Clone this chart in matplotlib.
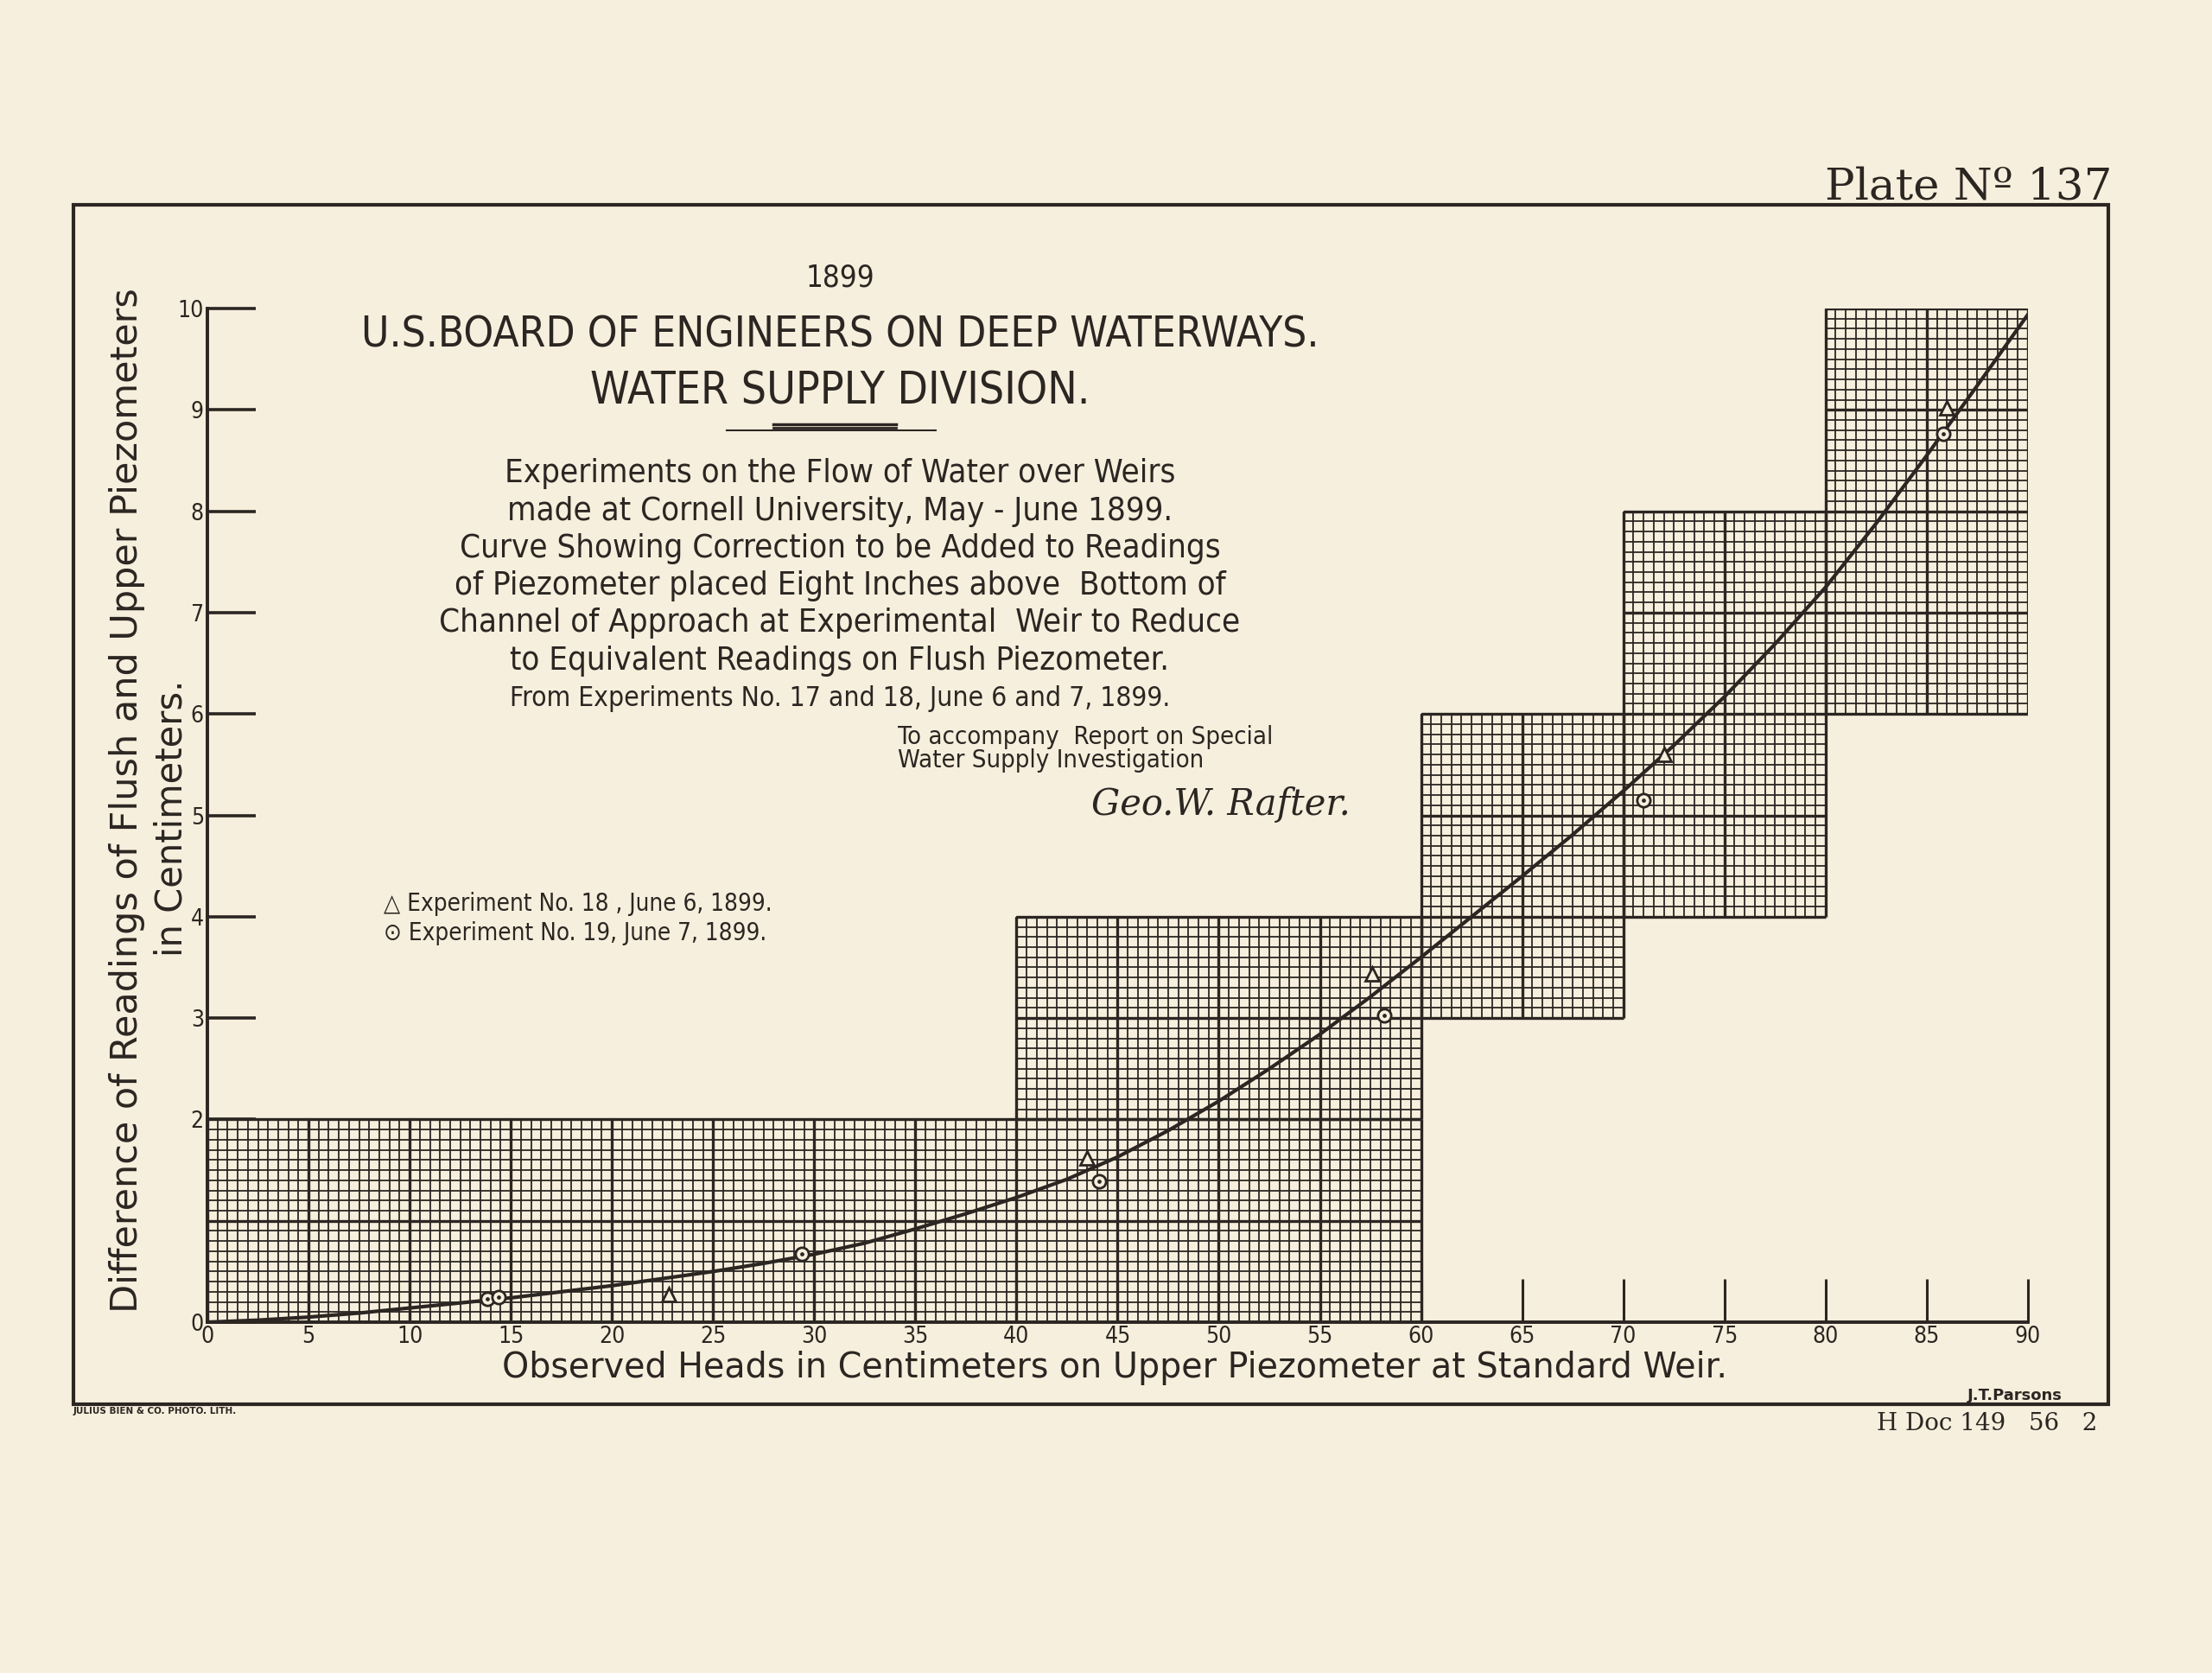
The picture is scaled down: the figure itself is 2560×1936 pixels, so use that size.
import matplotlib
matplotlib.use("Agg")
import matplotlib.pyplot as plt
from matplotlib.lines import Line2D
from matplotlib.patches import Rectangle
import numpy as np

# colours of the old plate
paper = "#f7efdd"
ink = "#2b2622"

# curve (x = observed head cm, y = correction cm)
curve_x = [0, 2.5, 5, 7.5, 10, 12.5, 15, 17.5, 20, 22.5, 25, 27.5, 30, 32.5, 35,
           37.5, 40, 42.5, 45, 47.5, 50, 52.5, 55, 57.5, 60, 62.5, 65, 67.5, 70,
           72.5, 75, 77.5, 80, 82.5, 85, 87.5, 90]
curve_y = [0, 0.02, 0.05, 0.09, 0.14, 0.19, 0.24, 0.30, 0.36, 0.43, 0.50, 0.58,
           0.67, 0.78, 0.92, 1.07, 1.23, 1.41, 1.63, 1.89, 2.18, 2.5, 2.84, 3.21,
           3.6, 4.0, 4.4, 4.81, 5.24, 5.69, 6.17, 6.69, 7.25, 7.88, 8.55, 9.24, 9.94]

# experiment No. 18 (triangles) and No. 19 (circles)
exp18_x = [22.8, 43.5, 57.6, 72.0, 86.0]
exp18_y = [0.27, 1.62, 3.44, 5.6, 9.02]
exp19_x = [13.85, 14.4, 29.4, 44.1, 58.2, 71.0, 85.8]
exp19_y = [0.23, 0.25, 0.67, 1.39, 3.03, 5.15, 8.76]

# pieces of cross-section paper pasted on the plate: (x0, x1, y0, y1)
blocks = [(0, 60, 0, 2), (40, 60, 2, 4), (60, 70, 3, 6), (70, 80, 4, 8), (80, 90, 6, 10)]

xticks = list(range(0, 95, 5))
yticks = [0, 2, 3, 4, 5, 6, 7, 8, 9, 10]

ylabel_lines = ["Difference of Readings of Flush and Upper Piezometers", "in Centimeters."]
xlabel_text = "Observed Heads in Centimeters on Upper Piezometer at Standard Weir."
title_lines = ["U.S.BOARD OF ENGINEERS ON DEEP WATERWAYS.", "WATER SUPPLY DIVISION."]
body_lines = [
    "Experiments on the Flow of Water over Weirs",
    "made at Cornell University, May - June 1899.",
    "Curve Showing Correction to be Added to Readings",
    "of Piezometer placed Eight Inches above  Bottom of",
    "Channel of Approach at Experimental  Weir to Reduce",
    "to Equivalent Readings on Flush Piezometer.",
]
from_line = "From Experiments No. 17 and 18, June 6 and 7, 1899."
note_lines = ["To accompany  Report on Special", "Water Supply Investigation"]
key_lines = ["\u25b3 Experiment No. 18 , June 6, 1899.", "\u2299 Experiment No. 19, June 7, 1899."]

fig = plt.figure(figsize=(25.6, 19.36), dpi=100, facecolor=paper)

# outer frame
fig.add_artist(Rectangle((0.0332, 0.1606), 0.9198, 0.717, transform=fig.transFigure,
                         fill=False, ec=ink, lw=3))

ax = fig.add_axes([0.09375, 0.2097, 0.8230, 0.6059])
ax.set_facecolor("none")
ax.set_xlim(0, 90)
ax.set_ylim(0, 10)

# graph paper
for x0, x1, y0, y1 in blocks:
    fx = np.arange(x0, x1 + 0.01, 0.5)
    fy = np.arange(y0, y1 + 0.001, 0.1)
    ax.vlines(fx, y0, y1, color=ink, lw=1.3, zorder=1)
    ax.hlines(fy, x0, x1, color=ink, lw=1.3, zorder=1)
    ax.vlines(np.arange(x0, x1 + 0.01, 5), y0, y1, color=ink, lw=2.4, zorder=2)
    ax.hlines(np.arange(y0, y1 + 0.01, 1), x0, x1, color=ink, lw=2.4, zorder=2)

ax.plot(curve_x, curve_y, color=ink, lw=3.0, zorder=4)
ax.plot(exp18_x, exp18_y, ls="none", marker="^", ms=11, mfc=paper, mec=ink, mew=2, zorder=5)
ax.plot(exp19_x, exp19_y, ls="none", marker="o", ms=11, mfc=paper, mec=ink, mew=2, zorder=5)
ax.plot(exp19_x, exp19_y, ls="none", marker="o", ms=2.4, color=ink, zorder=6)

for s in ["top", "right"]:
    ax.spines[s].set_visible(False)
for s in ["left", "bottom"]:
    ax.spines[s].set_color(ink)
    ax.spines[s].set_linewidth(2.8)

ax.set_xticks(xticks)
ax.set_yticks(yticks)
ax.tick_params(axis="x", direction="in", length=36, width=2.2, color=ink, pad=3,
               labelsize=19, labelcolor=ink)
ax.tick_params(axis="y", direction="in", length=40, width=2.6, color=ink, pad=3,
               labelsize=19, labelcolor=ink)
ax.set_yticklabels([str(v) for v in yticks], va="center_baseline")
for lab in ax.get_xticklabels() + ax.get_yticklabels():
    lab.set_fontstretch("condensed")

# axis titles
fig.text(0.0574, 0.5217, ylabel_lines[0], rotation=90, ha="center", va="center",
         fontsize=31, color=ink)
fig.text(0.0777, 0.511, ylabel_lines[1], rotation=90, ha="center", va="center",
         fontsize=30, color=ink)
fig.text(0.504, 0.1825, xlabel_text, ha="center", va="center", fontsize=28.5, color=ink)

# heading
cx = 0.3797
fig.text(cx, 0.834, "1899", ha="center", va="center", fontsize=25, color=ink,
         fontstretch="condensed")
fig.text(cx, 0.800, title_lines[0], ha="center", va="center", fontsize=35.5, color=ink,
         fontstretch="condensed")
fig.text(cx, 0.7655, title_lines[1], ha="center", va="center", fontsize=37, color=ink,
         fontstretch="condensed")
fig.add_artist(Line2D([0.3285, 0.4230], [0.7430, 0.7430], transform=fig.transFigure,
                      color=ink, lw=1.5))
fig.add_artist(Line2D([0.3496, 0.4050], [0.7462, 0.7462], transform=fig.transFigure,
                      color=ink, lw=2.5))
fig.add_artist(Line2D([0.3496, 0.4050], [0.7445, 0.7445], transform=fig.transFigure,
                      color=ink, lw=2.0))

fig.text(cx, 0.6609, "\n".join(body_lines), ha="center", va="center",
         multialignment="center", linespacing=1.26, fontsize=27.5, color=ink,
         fontstretch="condensed")
fig.text(cx, 0.5826, from_line, ha="center", va="center", fontsize=22.8, color=ink,
         fontstretch="condensed")

fig.text(0.4057, 0.5525, "\n".join(note_lines), ha="left", va="center",
         linespacing=0.95, fontsize=21, color=ink, fontstretch="condensed")
fig.text(0.552, 0.519, "Geo.W. Rafter.", ha="center", va="center", fontsize=30,
         color=ink, family="DejaVu Serif", style="italic")

# key
fig.text(0.1735, 0.4509, "\n".join(key_lines), ha="left", va="center",
         linespacing=1.3, fontsize=20, color=ink, fontstretch="condensed")

# marginal notes
fig.text(0.955, 0.888, "Plate N\u00ba 137", ha="right", va="center", fontsize=37,
         color=ink, family="DejaVu Serif")
fig.text(0.033, 0.1565, "JULIUS BIEN & CO. PHOTO. LITH.", ha="left", va="center",
         fontsize=7.5, color=ink, weight="bold")
fig.text(0.911, 0.1658, "J.T.Parsons", ha="center", va="center", fontsize=13,
         color=ink, weight="bold")
fig.text(0.948, 0.1488, "H Doc 149   56   2", ha="right", va="center", fontsize=20,
         color=ink, family="DejaVu Serif")

fig.savefig("out.png", dpi=100, facecolor=paper)
